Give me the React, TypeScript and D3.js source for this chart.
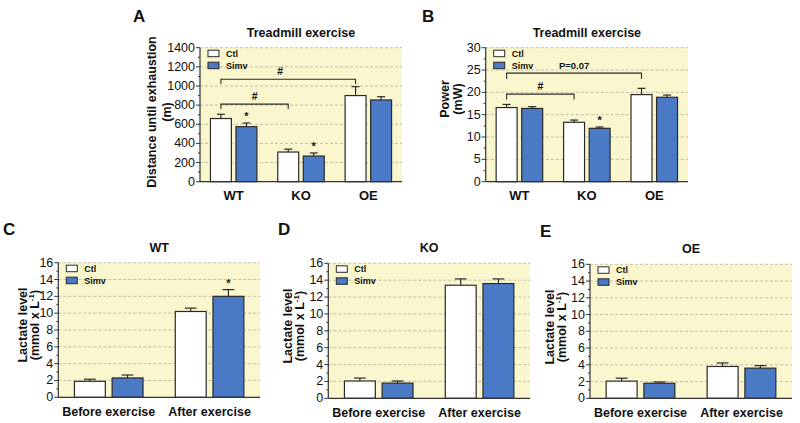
import React from "react";
import * as d3 from "d3";

// ---------- data ----------
const treadCategories = ["WT", "KO", "OE"];
const distCtl = [660, 310, 900];
const distCtlErr = [45, 30, 93];
const distSimv = [575, 268, 854];
const distSimvErr = [38, 32, 34];

const powerCtl = [16.6, 13.3, 19.5];
const powerCtlErr = [0.7, 0.5, 1.4];
const powerSimv = [16.4, 11.95, 18.9];
const powerSimvErr = [0.4, 0.3, 0.5];

const lactateCategories = ["Before exercise", "After exercise"];
const wtCtl = [1.9, 10.2];
const wtCtlErr = [0.25, 0.4];
const wtSimv = [2.3, 12.0];
const wtSimvErr = [0.35, 0.8];
const koCtl = [2.05, 13.4];
const koCtlErr = [0.35, 0.75];
const koSimv = [1.8, 13.6];
const koSimvErr = [0.25, 0.55];
const oeCtl = [2.05, 3.8];
const oeCtlErr = [0.35, 0.42];
const oeSimv = [1.8, 3.6];
const oeSimvErr = [0.15, 0.3];

const seriesNames = ["Ctl", "Simv"];

const distBrackets = [
  { from: 0, to: 2, y: 1070, drop: 1020, label: "#", shift: -8 },
  { from: 0, to: 1, y: 810, drop: 760, label: "#", shift: 0 },
];
const powerBrackets = [
  { from: 0, to: 2, y: 24.3, drop: 23.0, label: "P=0.07", shift: 0 },
  { from: 0, to: 1, y: 19.6, drop: 18.4, label: "#", shift: 0 },
];

const distStars = [
  { cat: 0, s: 1 },
  { cat: 1, s: 1 },
];
const powerStars = [{ cat: 1, s: 1 }];
const wtStars = [{ cat: 1, s: 1 }];

// ---------- style ----------
const YELLOW = "#FAF7CF";
const BLUE = "#4A7AC6";
const STROKE = "#2a2a2a";
const FONT = "'Liberation Sans', Arial, Helvetica, sans-serif";

type Bracket = { from: number; to: number; y: number; drop: number; label: string; shift: number };
type Star = { cat: number; s: number };

interface PanelProps {
  letter: string;
  letterX: number;
  letterY: number;
  title: string;
  left: number;
  right: number;
  top: number;
  bottom: number;
  max: number;
  step: number;
  minor: number;
  categories: string[];
  ctl: number[];
  ctlErr: number[];
  simv: number[];
  simvErr: number[];
  groupFrac: number;
  yLabel1: string;
  yLabel2: React.ReactNode;
  yLabelX1: number;
  yLabelX2: number;
  yLabelY: number;
  catFont: number;
  brackets?: Bracket[];
  stars?: Star[];
}

function Panel(p: PanelProps) {
  const y = d3.scaleLinear().domain([0, p.max]).range([p.bottom, p.top]);
  const xOuter = d3.scaleBand<string>().domain(p.categories).range([p.left, p.right]).padding(0);
  const bw = xOuter.bandwidth();
  const gw = bw * p.groupFrac;
  const majors = d3.range(0, p.max + p.step / 2, p.step);
  const minors = d3.range(0, p.max + p.minor / 2, p.minor).filter(
    (v) => Math.abs(v / p.step - Math.round(v / p.step)) > 1e-6
  );
  const vals = [p.ctl, p.simv];
  const errs = [p.ctlErr, p.simvErr];

  const inner = (cat: string) => {
    const c = (xOuter(cat) as number) + bw / 2;
    return d3.scaleBand<string>().domain(seriesNames).range([c - gw / 2, c + gw / 2]).paddingInner(0.18).paddingOuter(0);
  };
  const barCenter = (ci: number, si: number) => {
    const sc = inner(p.categories[ci]);
    return (sc(seriesNames[si]) as number) + sc.bandwidth() / 2;
  };

  const legX = p.left + 8;
  const legY = p.top + 2.5;

  return (
    <g fontFamily={FONT}>
      <text x={p.letterX} y={p.letterY} fontSize={17} fontWeight="bold" fill="#111">
        {p.letter}
      </text>
      <text x={(p.left + p.right) / 2} y={p.top - 11} fontSize={12.5} fontWeight="bold" textAnchor="middle" fill="#111">
        {p.title}
      </text>
      {/* background */}
      <rect x={p.left} y={p.top} width={p.right - p.left} height={p.bottom - p.top} fill={YELLOW} />
      {/* grid */}
      {majors
        .filter((v) => v > 0)
        .map((v) => (
          <line key={"g" + v} x1={p.left} x2={p.right} y1={y(v)} y2={y(v)} stroke="#b5b39c" strokeWidth={0.8} strokeDasharray="3,2" />
        ))}
      {/* legend */}
      {seriesNames.map((s, i) => (
        <g key={"leg" + s}>
          <rect x={legX} y={legY + i * 12} width={11} height={6.5} fill={i === 0 ? "#fff" : BLUE} stroke={STROKE} strokeWidth={1} />
          <text x={legX + 18} y={legY + i * 12 + 3.5} fontSize={9} fontWeight="bold" dominantBaseline="central" fill="#111">
            {s}
          </text>
        </g>
      ))}
      {/* bars */}
      {p.categories.map((cat, ci) => {
        const sc = inner(cat);
        return seriesNames.map((s, si) => {
          const x0 = sc(s) as number;
          const w = sc.bandwidth();
          const v = vals[si][ci];
          const e = errs[si][ci];
          const cx = x0 + w / 2;
          const cap = w * 0.38;
          return (
            <g key={cat + s}>
              <line x1={cx} x2={cx} y1={y(v)} y2={y(v + e)} stroke={STROKE} strokeWidth={1.2} />
              <line x1={cx - cap / 2} x2={cx + cap / 2} y1={y(v + e)} y2={y(v + e)} stroke={STROKE} strokeWidth={1.2} />
              <rect x={x0} y={y(v)} width={w} height={y(0) - y(v)} fill={si === 0 ? "#fff" : BLUE} stroke={STROKE} strokeWidth={1.2} />
            </g>
          );
        });
      })}
      {/* stars */}
      {(p.stars || []).map((st, i) => {
        const v = vals[st.s][st.cat] + errs[st.s][st.cat];
        return (
          <text key={"st" + i} x={barCenter(st.cat, st.s)} y={y(v) - 3} fontSize={11} fontWeight="bold" textAnchor="middle" fill="#111">
            *
          </text>
        );
      })}
      {/* brackets */}
      {(p.brackets || []).map((b, i) => {
        const x1 = barCenter(b.from, 0);
        const x2 = barCenter(b.to, 0);
        return (
          <g key={"br" + i}>
            <path
              d={`M${x1},${y(b.drop)}V${y(b.y)}H${x2}V${y(b.drop)}`}
              fill="none"
              stroke={STROKE}
              strokeWidth={1.1}
            />
            <text x={(x1 + x2) / 2 + b.shift} y={y(b.y) - 4} fontSize={b.label === "#" ? 10.5 : 9.5} fontWeight="bold" textAnchor="middle" fill="#111">
              {b.label}
            </text>
          </g>
        );
      })}
      {/* axes */}
      <line x1={p.left} x2={p.left} y1={p.top} y2={p.bottom} stroke="#333" strokeWidth={1.2} />
      <line x1={p.left} x2={p.right} y1={p.bottom} y2={p.bottom} stroke="#333" strokeWidth={1.2} />
      {majors.map((v) => (
        <g key={"t" + v}>
          <line x1={p.left - 4} x2={p.left} y1={y(v)} y2={y(v)} stroke="#333" strokeWidth={1} />
          <text x={p.left - 5} y={y(v)} fontSize={12.5} textAnchor="end" dominantBaseline="central" fill="#111">
            {v}
          </text>
        </g>
      ))}
      {minors.map((v) => (
        <line key={"m" + v} x1={p.left - 2} x2={p.left} y1={y(v)} y2={y(v)} stroke="#333" strokeWidth={1} />
      ))}
      {p.categories.map((cat) => (
        <text key={"c" + cat} x={(xOuter(cat) as number) + bw / 2} y={p.bottom + 18.5} fontSize={p.catFont} fontWeight="bold" textAnchor="middle" fill="#111">
          {cat}
        </text>
      ))}
      {/* y label */}
      <text transform={`translate(${p.yLabelX1},${p.yLabelY}) rotate(-90)`} fontSize={12.5} fontWeight="bold" textAnchor="middle" dominantBaseline="central" fill="#111">
        {p.yLabel1}
      </text>
      <text transform={`translate(${p.yLabelX2},${p.yLabelY}) rotate(-90)`} fontSize={12.5} fontWeight="bold" textAnchor="middle" dominantBaseline="central" fill="#111">
        {p.yLabel2}
      </text>
    </g>
  );
}

const lactUnit = (
  <>
    (mmol x L
    <tspan dy={-4} fontSize={8}>
      -1
    </tspan>
    <tspan dy={4}>)</tspan>
  </>
);

export default function App() {
  return (
    <svg width={800} height={423} style={{ position: "absolute", left: 0, top: 0, background: "#fff" }}>
      <Panel
        letter="A" letterX={133} letterY={22} title="Treadmill exercise"
        left={200} right={402} top={47.7} bottom={181.7} max={1400} step={200} minor={100}
        categories={treadCategories} ctl={distCtl} ctlErr={distCtlErr} simv={distSimv} simvErr={distSimvErr}
        groupFrac={0.69} yLabel1="Distance until exhaustion" yLabel2="(m)" yLabelX1={152} yLabelX2={167} yLabelY={112}
        catFont={13} brackets={distBrackets} stars={distStars}
      />
      <Panel
        letter="B" letterX={422} letterY={22} title="Treadmill exercise"
        left={485.7} right={688} top={47.7} bottom={181.7} max={30} step={5} minor={2.5}
        categories={treadCategories} ctl={powerCtl} ctlErr={powerCtlErr} simv={powerSimv} simvErr={powerSimvErr}
        groupFrac={0.69} yLabel1="Power" yLabel2="(mW)" yLabelX1={445} yLabelX2={458} yLabelY={99}
        catFont={13} brackets={powerBrackets} stars={powerStars}
      />
      <Panel
        letter="C" letterX={3} letterY={235} title="WT"
        left={58.3} right={260} top={262.7} bottom={397.3} max={16} step={2} minor={1}
        categories={lactateCategories} ctl={wtCtl} ctlErr={wtCtlErr} simv={wtSimv} simvErr={wtSimvErr}
        groupFrac={0.68} yLabel1="Lactate level" yLabel2={lactUnit} yLabelX1={23} yLabelX2={35} yLabelY={325}
        catFont={12.5} stars={wtStars}
      />
      <Panel
        letter="D" letterX={278} letterY={235} title="KO"
        left={328.3} right={530} top={263.3} bottom={398.3} max={16} step={2} minor={1}
        categories={lactateCategories} ctl={koCtl} ctlErr={koCtlErr} simv={koSimv} simvErr={koSimvErr}
        groupFrac={0.68} yLabel1="Lactate level" yLabel2={lactUnit} yLabelX1={288} yLabelX2={300} yLabelY={326}
        catFont={12.5}
      />
      <Panel
        letter="E" letterX={540} letterY={237} title="OE"
        left={590} right={792} top={264.3} bottom={398.3} max={16} step={2} minor={1}
        categories={lactateCategories} ctl={oeCtl} ctlErr={oeCtlErr} simv={oeSimv} simvErr={oeSimvErr}
        groupFrac={0.68} yLabel1="Lactate level" yLabel2={lactUnit} yLabelX1={550} yLabelX2={562} yLabelY={327}
        catFont={12.5}
      />
    </svg>
  );
}
